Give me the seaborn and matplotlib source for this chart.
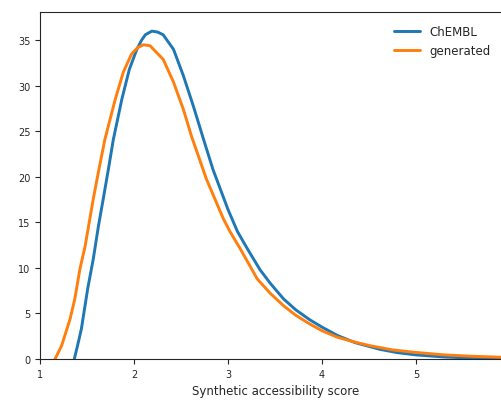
import pandas as pd
import seaborn as sns
import matplotlib.pyplot as plt

# values
chembl_x = [1.365, 1.40, 1.44, 1.507, 1.567, 1.62, 1.673, 1.73, 1.78, 1.87,
            1.95, 2.03, 2.08, 2.12, 2.19, 2.25, 2.31, 2.42, 2.525, 2.63,
            2.74, 2.84, 2.92, 3.0, 3.1, 3.2, 3.34, 3.45, 3.59, 3.72,
            3.87, 4.0, 4.16, 4.35, 4.62, 4.8, 5.0, 5.3, 5.6, 6.0]
chembl_y = [0.0, 1.5, 3.3, 7.7, 11.0, 14.5, 17.6, 21.0, 24.1, 28.5,
            31.8, 34.0, 35.0, 35.6, 36.0, 35.9, 35.6, 34.0, 31.1, 27.8,
            24.1, 20.8, 18.6, 16.4, 14.0, 12.2, 9.8, 8.3, 6.6, 5.4,
            4.3, 3.5, 2.6, 1.8, 1.05, 0.7, 0.45, 0.22, 0.1, 0.04]

generated_x = [1.16, 1.23, 1.32, 1.37, 1.425, 1.48, 1.567, 1.63, 1.69, 1.80,
               1.886, 1.975, 2.04, 2.10, 2.17, 2.31, 2.42, 2.525, 2.61, 2.77,
               2.95, 3.02, 3.13, 3.31, 3.45, 3.59, 3.72, 3.87, 4.0, 4.16,
               4.35, 4.51, 4.75, 4.97, 5.3, 5.6, 5.89, 6.0]
generated_y = [0.0, 1.46, 4.4, 6.6, 9.9, 12.4, 17.6, 21.0, 24.1, 28.5,
               31.5, 33.5, 34.2, 34.5, 34.4, 32.9, 30.4, 27.4, 24.5, 19.75,
               15.4, 14.0, 12.1, 8.8, 7.2, 5.85, 4.8, 3.84, 3.1, 2.4,
               1.85, 1.46, 1.0, 0.75, 0.45, 0.3, 0.2, 0.17]

x_ticks = [1, 2, 3, 4, 5]
y_ticks = [0, 5, 10, 15, 20, 25, 30, 35]

df = pd.concat([
    pd.DataFrame({'score': chembl_x, 'density': chembl_y, 'set': 'ChEMBL'}),
    pd.DataFrame({'score': generated_x, 'density': generated_y, 'set': 'generated'}),
])

sns.set_style('ticks', {'axes.spines.right': True, 'axes.spines.top': True})
plt.rcParams['font.family'] = ['DejaVu Sans']

fig = plt.figure(figsize=(5.01, 4.02), dpi=100)
# the right part of the axes runs past the figure edge, as in the reference
ax = fig.add_axes([40 / 501, 42 / 402, 472 / 501, 347 / 402])

sns.lineplot(data=df, x='score', y='density', hue='set',
             palette=['tab:blue', 'tab:orange'], linewidth=2.1,
             estimator=None, ax=ax)

ax.set_xlim(1, 6.02)
ax.set_ylim(0, 38.1)
ax.set_xticks(x_ticks)
ax.set_yticks(y_ticks)
ax.tick_params(labelsize=7, length=3.5, width=0.8)
ax.set_xlabel('Synthetic accessibility score', fontsize=8.5)
ax.set_ylabel('')
for s in ax.spines.values():
    s.set_linewidth(0.8)

ax.legend(title=None, loc='upper left', bbox_to_anchor=(0.766, 0.962),
          bbox_transform=fig.transFigure, frameon=False, fontsize=8.5,
          handlelength=2.2)

fig.savefig('out.png', dpi=100)
